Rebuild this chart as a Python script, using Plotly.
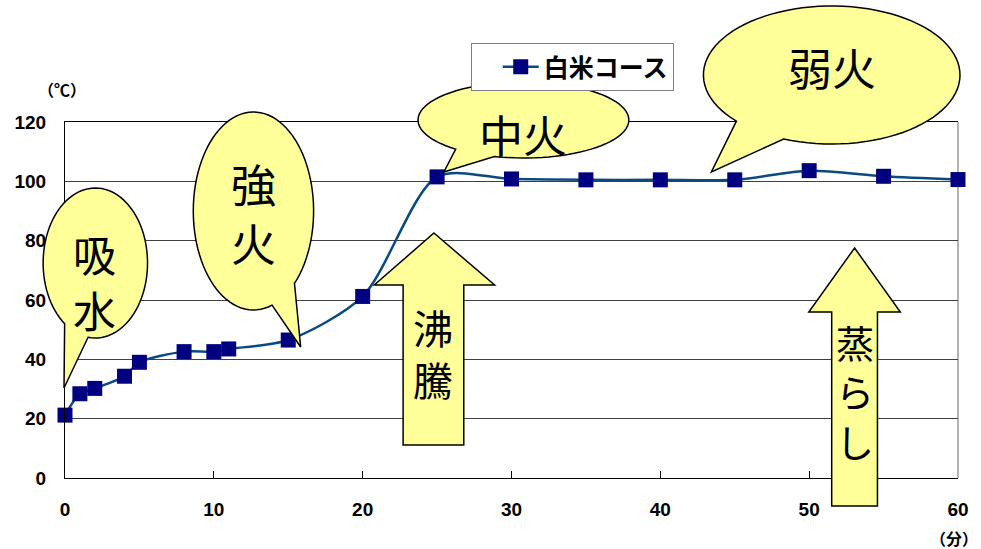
import math
import plotly.graph_objects as go

# ---- data ----
time_min = [0, 1, 2, 4, 5, 8, 10, 11, 15, 20, 25, 30, 35, 40, 45, 50, 55, 60]
temp_c = [21.2, 28.4, 30.2, 34.3, 39.0, 42.6, 42.6, 43.5, 46.5, 61.2,
          101.5, 100.8, 100.5, 100.5, 100.5, 103.6, 101.7, 100.6]
series_name = "白米コース"
x_ticks = [0, 10, 20, 30, 40, 50, 60]
y_ticks = [0, 20, 40, 60, 80, 100, 120]
y_unit = "（℃）"
x_unit = "（分）"

# ---- layout geometry (pixels) ----
W, H = 981, 549
PL, PR, PT, PB = 65, 963, 122, 478
YELLOW = "#FFFF99"
JP = "Noto Sans CJK JP"


def P(x, y):
    return ((x - PL) / (PR - PL), (PB - y) / (PB - PT))


def poly_path(pts):
    conv = [P(*p) for p in pts]
    return "M " + " L ".join(f"{a:.5f},{b:.5f}" for a, b in conv) + " Z"


def bubble(cx, cy, rx, ry, a1, a2, tip, n=90):
    pts = []
    for i in range(n + 1):
        a = math.radians(a2 + (a1 + 360 - a2) * i / n)
        pts.append((cx + rx * math.cos(a), cy + ry * math.sin(a)))
    pts.append(tip)
    return dict(type="path", xref="paper", yref="paper", path=poly_path(pts),
                fillcolor=YELLOW, line=dict(color="black", width=1.5), layer="above")


def arrow(pts):
    return dict(type="path", xref="paper", yref="paper", path=poly_path(pts),
                fillcolor=YELLOW, line=dict(color="black", width=1.5), layer="above")


shapes = [
    dict(type="line", xref="paper", yref="paper", x0=1, x1=1, y0=0, y1=1,
         line=dict(color="#808080", width=1.2), layer="below"),
    bubble(95.5, 263, 52.5, 75, 98, 126, (64, 388)),
    bubble(254.5, 211, 60.5, 99, 47, 72, (302, 347)),
    bubble(526, 120, 106, 38, 106, 130, (446, 172)),
    bubble(836, 75, 129, 69, 112, 138, (715, 172)),
    arrow([(436, 233), (497, 285), (466, 285), (466, 445), (405, 445), (405, 285), (376, 285)]),
    arrow([(859, 248), (905, 312), (882, 312), (882, 506), (836, 506), (836, 312), (813, 312)]),
]


def label(text, x, y, size=44, bold=False):
    px, py = P(x, y)
    return dict(text=text, x=px, y=py, xref="paper", yref="paper", showarrow=False,
                xanchor="center", yanchor="middle", align="center",
                font=dict(family=JP, size=size, color="black",
                          weight="bold" if bold else "normal"))


annotations = [
    label("吸<br>水", 95, 281, 43),
    label("強<br>火", 255, 213, 45),
    label("中火", 526, 134, 44),
    label("弱火", 836, 67, 44),
    label("沸<br>騰", 435, 353, 40),
    label("蒸<br>ら<br>し", 859, 391, 38),
    label(y_unit, 62, 89, 16, True),
    label(x_unit, 959, 538, 16, True),
]

fig = go.Figure()
fig.add_trace(go.Scatter(
    x=time_min, y=temp_c, name=series_name, mode="lines+markers",
    line=dict(color="#0B4A80", width=2.5, shape="spline", smoothing=0.8),
    marker=dict(symbol="square", size=15, color="#000080"),
    cliponaxis=False, showlegend=True,
))

lx, ly = P(473, 43)
fig.update_layout(
    width=W, height=H,
    margin=dict(l=PL, r=W - PR, t=PT, b=H - PB),
    paper_bgcolor="white", plot_bgcolor="white",
    shapes=shapes, annotations=annotations,
    showlegend=True,
    legend=dict(x=lx, y=ly, xanchor="left", yanchor="top",
                bordercolor="#808080", borderwidth=1, bgcolor="white",
                font=dict(family=JP, size=25, color="black", weight="bold"),
                indentation=26, itemwidth=36, tracegroupgap=0),
    xaxis=dict(range=[0, 60], tickvals=x_ticks, showgrid=False, zeroline=False,
               showline=True, linecolor="black", linewidth=1.2, mirror=True,
               ticks="inside", ticklen=7, tickcolor="black", tickwidth=1,
               ticklabelstandoff=14,
               tickfont=dict(family="Liberation Sans", size=19, color="black", weight="bold")),
    yaxis=dict(range=[0, 120], tickvals=y_ticks, showgrid=True, gridcolor="#404040",
               gridwidth=1, zeroline=False, showline=True, linecolor="black",
               linewidth=1.2, ticks="", ticklabelstandoff=14,
               tickfont=dict(family="Liberation Sans", size=19, color="black", weight="bold")),
)

fig.write_html("out.html", config={"displayModeBar": False},
               post_script="document.body.style.margin='0';document.body.style.padding='0';")
